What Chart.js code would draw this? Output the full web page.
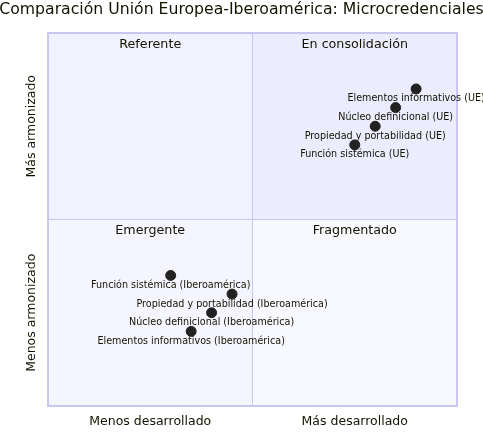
<!DOCTYPE html>
<html>
<head>
<meta charset="utf-8">
<script src="https://cdn.jsdelivr.net/npm/chart.js@4"></script>
<style>
  html, body { margin: 0; padding: 0; background: #fff; }
  #wrap { width: 483px; height: 433px; }
</style>
</head>
<body>
<div id="wrap"><canvas id="myChart" width="483" height="433"></canvas></div>
<script>
const chartTitle = 'Comparación Unión Europea-Iberoamérica: Microcredenciales';
const xAxisLabels = ['Menos desarrollado', 'Más desarrollado'];
const yAxisLabels = ['Menos armonizado', 'Más armonizado'];
// cuadrantes: arriba-izq, arriba-der, abajo-izq, abajo-der
const quadrantNames = ['Referente', 'En consolidación', 'Emergente', 'Fragmentado'];

const pointNames = [
    'Elementos informativos (UE)',
    'Núcleo definicional (UE)',
    'Propiedad y portabilidad (UE)',
    'Función sistémica (UE)',
    'Función sistémica (Iberoamérica)',
    'Propiedad y portabilidad (Iberoamérica)',
    'Núcleo definicional (Iberoamérica)',
    'Elementos informativos (Iberoamérica)'
];
const pointX = [0.90, 0.85, 0.80, 0.75, 0.30, 0.45, 0.40, 0.35];
const pointY = [0.85, 0.80, 0.75, 0.70, 0.35, 0.30, 0.25, 0.20];

const FONT = 'DejaVu Sans, sans-serif';
const TEXT = '#131300';

const quadrantPlugin = {
    id: 'quadrants',
    beforeDatasetsDraw(chart) {
        const { ctx, chartArea: a, scales } = chart;
        const mx = scales.x.getPixelForValue(0.5);
        const my = scales.y.getPixelForValue(0.5);
        ctx.save();
        // fondos
        ctx.fillStyle = '#f1f1ff'; ctx.fillRect(a.left, a.top, mx - a.left, my - a.top);
        ctx.fillStyle = '#ececff'; ctx.fillRect(mx, a.top, a.right - mx, my - a.top);
        ctx.fillStyle = '#f5f5ff'; ctx.fillRect(a.left, my, mx - a.left, a.bottom - my);
        ctx.fillStyle = '#f8f8ff'; ctx.fillRect(mx, my, a.right - mx, a.bottom - my);
        // bordes
        ctx.strokeStyle = '#c7c7f1';
        ctx.lineWidth = 1;
        ctx.beginPath();
        ctx.moveTo(mx, a.top); ctx.lineTo(mx, a.bottom);
        ctx.moveTo(a.left, my); ctx.lineTo(a.right, my);
        ctx.stroke();
        ctx.lineWidth = 2;
        ctx.strokeRect(a.left, a.top, a.right - a.left, a.bottom - a.top);

        // textos de cuadrante
        ctx.fillStyle = TEXT;
        ctx.font = '12.7px ' + FONT;
        ctx.textAlign = 'center';
        ctx.textBaseline = 'middle';
        ctx.fillText(quadrantNames[0], (a.left + mx) / 2, a.top + 12);
        ctx.fillText(quadrantNames[1], (mx + a.right) / 2, a.top + 12);
        ctx.fillText(quadrantNames[2], (a.left + mx) / 2, my + 11);
        ctx.fillText(quadrantNames[3], (mx + a.right) / 2, my + 11);

        // titulo
        ctx.font = '15.7px ' + FONT;
        ctx.fillText(chartTitle, chart.width / 2, 10);

        // ejes
        ctx.font = '12.5px ' + FONT;
        ctx.fillText(xAxisLabels[0], (a.left + mx) / 2, a.bottom + 16);
        ctx.fillText(xAxisLabels[1], (mx + a.right) / 2, a.bottom + 16);
        ctx.save();
        ctx.translate(a.left - 16, (my + a.bottom) / 2);
        ctx.rotate(-Math.PI / 2);
        ctx.fillText(yAxisLabels[0], 0, 0);
        ctx.restore();
        ctx.save();
        ctx.translate(a.left - 16, (a.top + my) / 2);
        ctx.rotate(-Math.PI / 2);
        ctx.fillText(yAxisLabels[1], 0, 0);
        ctx.restore();
        ctx.restore();
    },
    afterDatasetsDraw(chart) {
        const { ctx } = chart;
        const meta = chart.getDatasetMeta(0);
        ctx.save();
        ctx.fillStyle = TEXT;
        ctx.font = '9.6px ' + FONT;
        ctx.textAlign = 'center';
        ctx.textBaseline = 'middle';
        meta.data.forEach((pt, i) => {
            ctx.fillText(pointNames[i], pt.x, pt.y + 10);
        });
        ctx.restore();
    }
};

const ctx = document.getElementById('myChart').getContext('2d');
const myChart = new Chart(ctx, {
    type: 'scatter',
    data: {
        datasets: [{
            label: 'Dimensiones',
            data: pointX.map((x, i) => ({ x: x, y: pointY[i] })),
            backgroundColor: '#222222',
            borderColor: '#222222',
            pointRadius: 5,
            pointHoverRadius: 5
        }]
    },
    options: {
        responsive: false,
        animation: false,
        layout: { padding: { left: 48, top: 33, right: 26, bottom: 27 } },
        plugins: { legend: { display: false }, tooltip: { enabled: false } },
        scales: {
            x: { type: 'linear', min: 0, max: 1, display: false },
            y: { type: 'linear', min: 0, max: 1, display: false }
        }
    },
    plugins: [quadrantPlugin]
});
</script>
</body>
</html>
